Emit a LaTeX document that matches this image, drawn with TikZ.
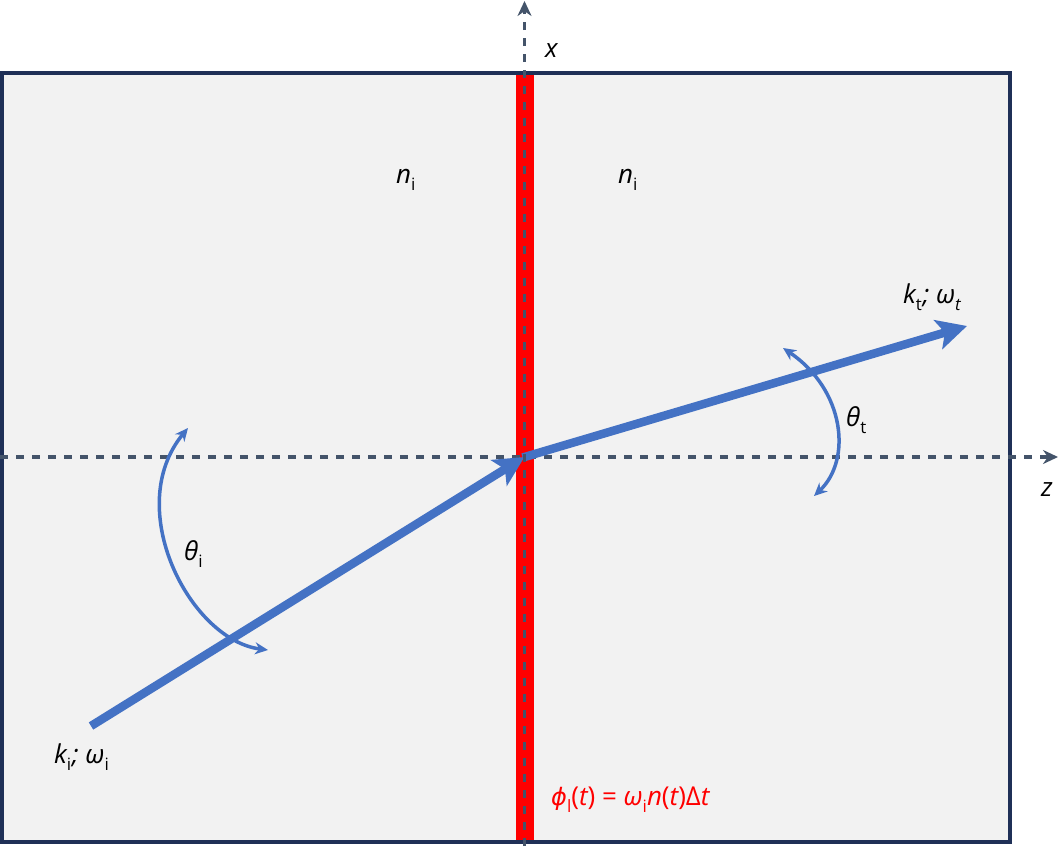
\documentclass[tikz,border=0pt]{standalone}
\usepackage{fontspec}
\setmainfont{Open Sans}
\newfontfamily\djv{DejaVu Sans}
\usetikzlibrary{arrows.meta}
\definecolor{boxfill}{HTML}{F2F2F2}
\definecolor{boxline}{HTML}{1F3057}
\definecolor{axiscol}{HTML}{44546A}
\definecolor{beamcol}{HTML}{4472C4}
\definecolor{redcol}{HTML}{FF0000}
\newcommand{\lsub}[1]{\raisebox{-0.28em}{\fontsize{17}{17}\selectfont\upshape #1}}
\newcommand{\lsubit}[1]{\raisebox{-0.28em}{\fontsize{17}{17}\selectfont\itshape #1}}
\tikzset{
  frame/.style={draw=boxline, fill=boxfill, line width=4pt},
  axis/.style={draw=axiscol, line width=3.5pt, dash pattern=on 8pt off 8pt, -{Stealth[length=15pt,width=14pt]}},
  beam/.style={draw=beamcol, line width=8.5pt, -{Stealth[length=30pt,width=30pt,inset=7pt]}},
  arcarrow/.style={draw=beamcol, line width=3.5pt, {Stealth[length=13pt,width=12pt]}-{Stealth[length=13pt,width=12pt]}},
  lbl/.style={inner sep=0pt, anchor=base west, font=\fontsize{26}{26}\selectfont\itshape},
}
\begin{document}
\begin{tikzpicture}[x=1pt,y=-1pt]
\useasboundingbox (0,0) rectangle (1059,846);
% box and interface
\draw[frame] (2,73) rectangle (1010,842);
\fill[redcol] (515.5,75) rectangle (533.5,840);
% axes
\coordinate (xbot) at (524.5,846);
\coordinate (xtop) at (524.5,1);
\coordinate (zl) at (0,457);
\coordinate (zr) at (1058,457);
\coordinate (O) at (524.5,457);
\draw[axis] (zl) -- (zr);
% beams
\coordinate (kin) at (91,726);
\coordinate (kout) at (967,326);
\draw[beam] (kin) -- (O);
\draw[beam, shorten <=-2pt] (O) -- (kout);
\draw[axis] (xbot) -- (xtop);
% angle arcs
\coordinate (ai1) at (188,428);
\coordinate (ai2) at (268,650);
\draw[arcarrow] (ai1) .. controls (122,508) and (190,640) .. (ai2);
\coordinate (at1) at (783,348);
\coordinate (at2) at (814,496);
\draw[arcarrow] (at1) .. controls (845,390) and (852,460) .. (at2);
% labels
\node[lbl] (xl) at (545,57) {x};
\node[lbl] (zlab) at (1041,496) {z};
\node[lbl] (n1) at (396,183) {n\lsub{i}};
\node[lbl] (n2) at (618,183) {n\lsub{i}};
\node[lbl] (kt) at (903,303) {k\lsub{t}\kern1pt; ω\lsubit{t}};
\node[lbl] (ki) at (54,763) {k\lsub{i}\kern1pt; ω\lsub{i}};
\node[lbl] (thi) at (184,560) {θ\lsub{i}};
\node[lbl] (tht) at (846,426) {θ\lsub{t}};
\node[lbl, text=redcol] (phi) at (551,805) {{\djv\fontsize{24}{24}\selectfont\itshape ϕ}\lsub{l}\upshape(\itshape t\upshape) = \itshape ω\lsub{i}n\upshape(\itshape t\upshape)Δ\itshape t};
\end{tikzpicture}
\end{document}
